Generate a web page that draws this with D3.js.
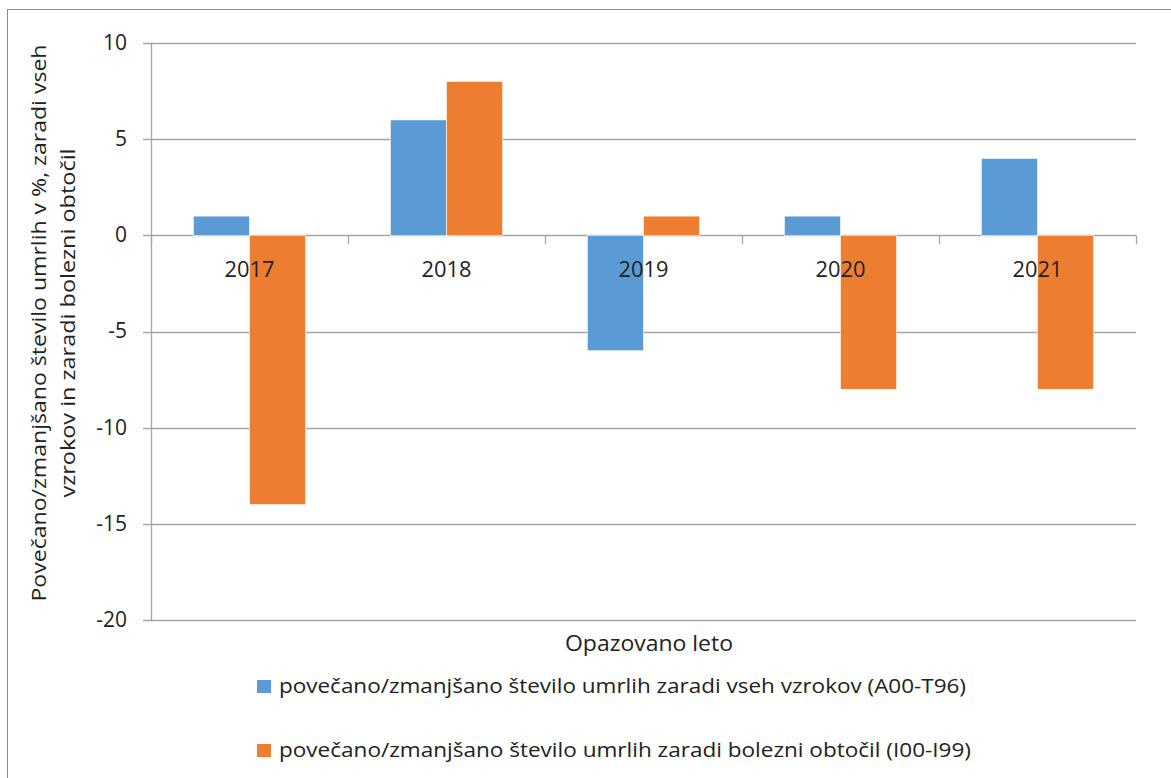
<!DOCTYPE html>
<html>
<head>
  <meta charset="utf-8">
  <title>Umrli po letih</title>
  <style>
    body { margin: 0; background: #fff; }
    text { font-family: "Open Sans", "Noto Sans", sans-serif; fill: #222; }
  </style>
</head>
<body>
<svg width="1171" height="778" id="chart"></svg>

<script src="https://cdnjs.cloudflare.com/ajax/libs/d3/7.8.5/d3.min.js"></script>
<script>

// data
let years = ["2017", "2018", "2019", "2020", "2021"];
let allCauses = [1, 6, -6, 1, 4];         // A00-T96
let circulatory = [-14, 8, 1, -8, -8];    // I00-I99
let yTicks = [10, 5, 0, -5, -10, -15, -20];
let seriesNames = [
  "povečano/zmanjšano število umrlih zaradi vseh vzrokov (A00-T96)",
  "povečano/zmanjšano število umrlih zaradi bolezni obtočil (I00-I99)"
];
let colors = ["#5b9bd5", "#ed7d31"];

let svg = d3.select("#chart");

// outer frame
svg.append("rect")
  .attr("x", 7.5).attr("y", 9.5)
  .attr("width", 1180).attr("height", 800)
  .attr("fill", "none").attr("stroke", "#8c8c8c").attr("stroke-width", 1);

let plotLeft = 151, plotRight = 1136, plotTop = 43, plotBottom = 620;

let y = d3.scaleLinear().domain([-20, 10]).range([plotBottom, plotTop]);
let x0 = d3.scaleBand().domain(years).range([plotLeft, plotRight]).paddingInner(0.43).paddingOuter(0.215);
let x1 = d3.scaleBand().domain([0, 1]).range([0, x0.bandwidth()]);

// gridlines
svg.append("g").selectAll("line")
  .data(yTicks)
  .join("line")
  .attr("x1", plotLeft - 8).attr("x2", plotRight)
  .attr("y1", d => Math.round(y(d)) + 0.5).attr("y2", d => Math.round(y(d)) + 0.5)
  .attr("stroke", "#a6a6a6").attr("stroke-width", 1.3);

// y axis line
svg.append("line")
  .attr("x1", plotLeft + 0.5).attr("x2", plotLeft + 0.5)
  .attr("y1", plotTop).attr("y2", plotBottom + 1)
  .attr("stroke", "#a6a6a6").attr("stroke-width", 1.3);

// y tick labels
svg.append("g").selectAll("text")
  .data(yTicks)
  .join("text")
  .attr("x", 127).attr("y", d => y(d))
  .attr("dy", "0.33em")
  .attr("text-anchor", "end")
  .attr("font-size", 21)
  .text(d => d);

// bars
let rows = years.map((yr, i) => ({ year: yr, values: [allCauses[i], circulatory[i]] }));

let groups = svg.append("g").selectAll("g")
  .data(rows)
  .join("g")
  .attr("transform", d => `translate(${x0(d.year)},0)`);

groups.selectAll("rect")
  .data(d => d.values.map((v, k) => ({ k: k, v: v })))
  .join("rect")
  .attr("x", d => x1(d.k))
  .attr("width", x1.bandwidth())
  .attr("y", d => y(Math.max(0, d.v)))
  .attr("height", d => Math.abs(y(d.v) - y(0)))
  .attr("fill", d => colors[d.k])
  .attr("stroke", "#fff").attr("stroke-width", 0.6);

// category ticks on the zero line
let bandStep = x0.step();
svg.append("g").selectAll("line")
  .data(d3.range(years.length + 1))
  .join("line")
  .attr("x1", i => Math.round(plotLeft + i * bandStep) + 0.5)
  .attr("x2", i => Math.round(plotLeft + i * bandStep) + 0.5)
  .attr("y1", y(0)).attr("y2", y(0) + 9)
  .attr("stroke", "#a6a6a6").attr("stroke-width", 1.3);

// category labels
svg.append("g").selectAll("text")
  .data(years)
  .join("text")
  .attr("x", d => x0(d) + x0.bandwidth() / 2)
  .attr("y", y(0) + 42)
  .attr("text-anchor", "middle")
  .attr("font-size", 22)
  .attr("textLength", 50).attr("lengthAdjust", "spacingAndGlyphs")
  .text(d => d);

// axis titles
svg.append("text")
  .attr("x", 649).attr("y", 651)
  .attr("text-anchor", "middle")
  .attr("font-size", 22)
  .attr("textLength", 168).attr("lengthAdjust", "spacingAndGlyphs")
  .text("Opazovano leto");

let yTitle = svg.append("g").attr("transform", "translate(0,323) rotate(-90)");
yTitle.append("text")
  .attr("x", 0).attr("y", 46)
  .attr("text-anchor", "middle")
  .attr("font-size", 20)
  .attr("textLength", 557).attr("lengthAdjust", "spacingAndGlyphs")
  .text("Povečano/zmanjšano število umrlih v %, zaradi vseh");
yTitle.append("text")
  .attr("x", 0).attr("y", 75)
  .attr("text-anchor", "middle")
  .attr("font-size", 20)
  .attr("textLength", 349).attr("lengthAdjust", "spacingAndGlyphs")
  .text("vzrokov in zaradi bolezni obtočil");

// legend
let legend = svg.append("g").selectAll("g")
  .data(seriesNames)
  .join("g")
  .attr("transform", (d, i) => `translate(257,${693 + i * 64})`);

legend.append("rect")
  .attr("x", 0).attr("y", -13)
  .attr("width", 14).attr("height", 13)
  .attr("fill", (d, i) => colors[i]);

legend.append("text")
  .attr("x", 22).attr("y", 0)
  .attr("font-size", 20)
  .attr("textLength", (d, i) => i === 0 ? 687 : 692)
  .attr("lengthAdjust", "spacingAndGlyphs")
  .text(d => d);

</script>
</body>
</html>
